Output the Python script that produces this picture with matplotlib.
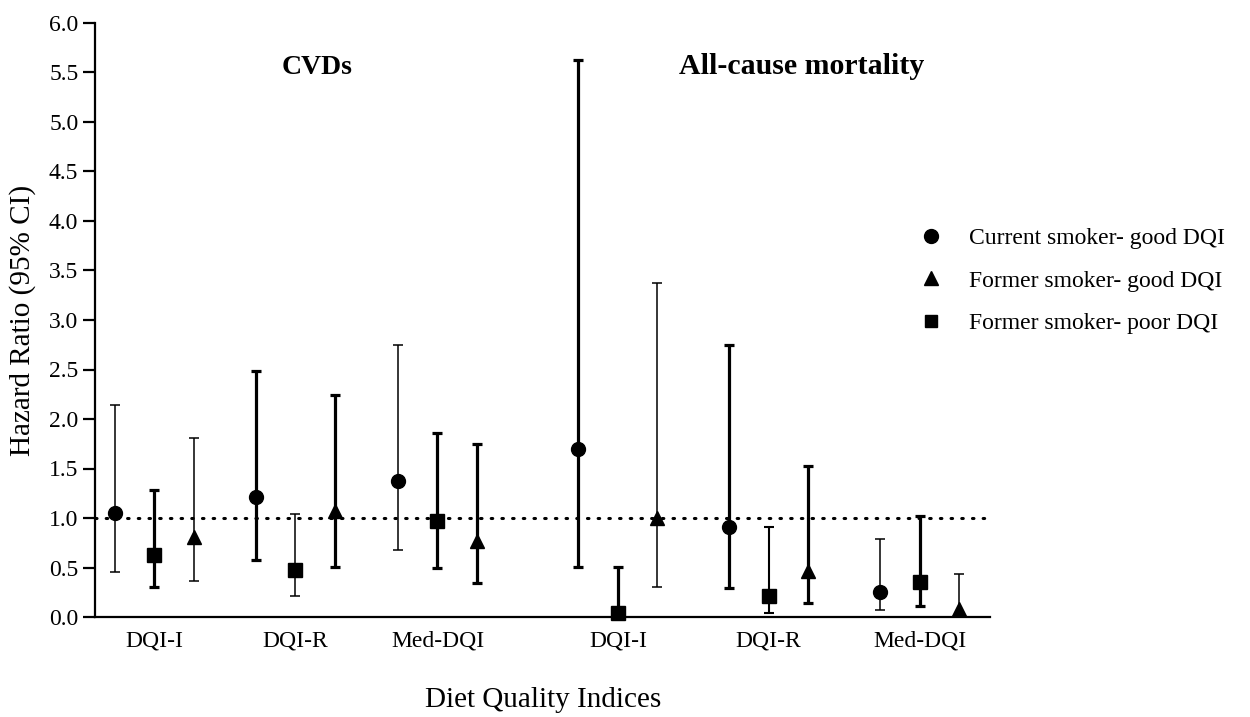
import matplotlib
matplotlib.use("Agg")
import matplotlib.pyplot as plt
from matplotlib.lines import Line2D

plt.rcParams['font.family'] = ['Liberation Serif', 'DejaVu Serif']

# x categories (CVDs first three, all-cause mortality last three)
groups = ['DQI-I', 'DQI-R', 'Med-DQI', 'DQI-I', 'DQI-R', 'Med-DQI']

# hazard ratios with 95% CI
cur_good_hr = [1.05, 1.21, 1.37, 1.70, 0.91, 0.25]
cur_good_lo = [0.45, 0.58, 0.68, 0.51, 0.29, 0.07]
cur_good_hi = [2.14, 2.48, 2.75, 5.63, 2.75, 0.79]

form_poor_hr = [0.63, 0.47, 0.97, 0.04, 0.21, 0.35]
form_poor_lo = [0.30, 0.21, 0.50, 0.00, 0.04, 0.11]
form_poor_hi = [1.28, 1.04, 1.86, 0.51, 0.91, 1.02]

form_good_hr = [0.81, 1.07, 0.77, 1.00, 0.46, 0.08]
form_good_lo = [0.36, 0.51, 0.34, 0.30, 0.14, 0.00]
form_good_hi = [1.81, 2.24, 1.75, 3.37, 1.53, 0.43]

# layout / style
group_pos = [0, 1, 2.01, 3.29, 4.36, 5.43]
thick, thin = 2.3, 1.1
series = [
    (cur_good_hr, cur_good_lo, cur_good_hi, 'o', 10, -0.28,
     [thin, thick, thin, thick, thick, thin]),
    (form_poor_hr, form_poor_lo, form_poor_hi, 's', 10, 0.0,
     [thick, thin, thick, thick, 1.5, thick]),
    (form_good_hr, form_good_lo, form_good_hi, '^', 10, 0.28,
     [thin, thick, thick, thin, thick, thin]),
]

fig = plt.figure(figsize=(12.5, 7.17), dpi=100)
ax = fig.add_axes([95/1250, 1-617/717, 895/1250, 594/717])

# reference line at HR = 1
ax.plot([-0.42, 5.9], [1, 1], color='black', lw=2.2,
        linestyle=(0, (0.5, 3.0)), dash_capstyle='round', zorder=1)

for hr, lo, hi, mk, ms, off, widths in series:
    for i in range(len(groups)):
        x = group_pos[i] + off
        ax.errorbar([x], [hr[i]], yerr=[[hr[i]-lo[i]], [hi[i]-hr[i]]],
                    fmt=mk, color='black', ms=ms, elinewidth=widths[i],
                    capsize=3.5, capthick=widths[i], clip_on=False, zorder=3)

ax.set_xlim(-0.42, 5.93)
ax.set_ylim(0, 6)
ax.set_yticks([i * 0.5 for i in range(13)])
ax.set_yticklabels(['%.1f' % (i * 0.5) for i in range(13)], fontsize=17)
ax.set_xticks(group_pos)
ax.set_xticklabels(groups, fontsize=17)
ax.tick_params(axis='y', length=9, width=1.6, pad=3)
ax.tick_params(axis='x', length=0, pad=10)

for s in ['top', 'right']:
    ax.spines[s].set_visible(False)
for s in ['left', 'bottom']:
    ax.spines[s].set_linewidth(1.6)

ax.set_ylabel('Hazard Ratio (95% CI)', fontsize=21)
ax.yaxis.set_label_coords(-0.066, 0.5)

fig.text(543/1250, 1-700/717, 'Diet Quality Indices', fontsize=21,
         ha='center', va='center')

ax.text(317/1250, 1-68/717, 'CVDs', fontsize=20, fontweight='bold',
        ha='center', va='center', transform=fig.transFigure)
ax.text(802/1250, 1-67/717, 'All-cause mortality', fontsize=21.5,
        fontweight='bold', ha='center', va='center',
        transform=fig.transFigure)

handles = [
    Line2D([], [], marker='o', color='black', ls='none', ms=10),
    Line2D([], [], marker='^', color='black', ls='none', ms=10),
    Line2D([], [], marker='s', color='black', ls='none', ms=9),
]
labels = ['Current smoker- good DQI', 'Former smoker- good DQI',
          'Former smoker- poor DQI']
fig.legend(handles, labels, loc='upper left',
           bbox_to_anchor=(898/1250, 1-206/717), frameon=False,
           fontsize=17, handlelength=1.0, handletextpad=1.1,
           labelspacing=0.9)

fig.savefig('out.png', dpi=100)
